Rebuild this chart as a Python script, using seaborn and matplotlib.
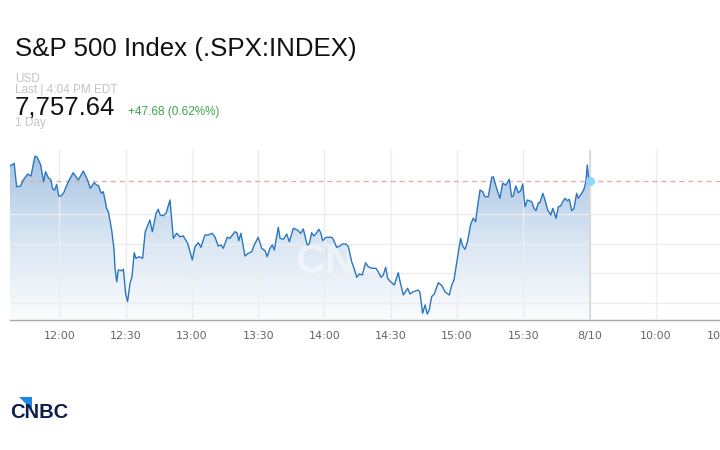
import numpy as np
import seaborn as sns
import matplotlib.pyplot as plt
from matplotlib.colors import LinearSegmentedColormap
from matplotlib.patches import Polygon

# Intraday S&P 500 chart (CNBC style)
# minutes after 12:00 (8/10 tick = 16:00 close)
minutes = [
    -22.3, -20.4, -19.3, -17.5, -16.3, -14.3, -12.8, -11.0, -10.0, -8.4,
    -7.1, -6.2, -4.8, -3.9, -2.9, -2.1, -1.2, -0.3, 0.8, 2.0,
    4.1, 6.3, 8.6, 10.9, 12.9, 14.0, 15.8, 16.9, 17.8, 19.0,
    19.9, 20.7, 21.4, 22.2, 23.7, 24.8, 25.2, 26.0, 26.7, 28.2,
    29.0, 30.0, 30.9, 32.0, 32.9, 33.9, 34.7, 36.2, 37.7, 38.9,
    41.0, 42.1, 43.8, 44.8, 45.6, 47.1, 48.3, 50.1, 51.6, 53.1,
    54.6, 56.1, 58.1, 60.2, 61.4, 62.9, 64.1, 65.9, 67.4, 69.2,
    70.5, 71.9, 73.2, 74.2, 76.0, 77.2, 79.5, 80.4, 81.2, 82.2,
    84.0, 85.5, 87.1, 88.2, 90.0, 91.6, 93.1, 94.1, 95.3, 96.4,
    97.3, 99.1, 99.9, 101.4, 102.9, 104.1, 105.9, 107.7, 109.2, 110.4,
    112.2, 113.1, 114.2, 115.2, 116.5, 117.4, 118.3, 119.2, 120.7, 123.3,
    124.0, 125.5, 127.0, 128.2, 129.7, 130.8, 132.3, 133.4, 134.6, 135.7,
    137.1, 138.6, 139.8, 141.4, 143.3, 144.3, 145.6, 146.6, 147.7, 148.6,
    149.6, 151.6, 153.4, 154.2, 155.7, 157.6, 158.7, 160.2, 162.4, 163.2,
    164.4, 165.5, 166.5, 167.4, 168.5, 169.7, 171.5, 173.3, 174.5, 176.5,
    177.6, 178.6, 179.8, 181.6, 182.5, 183.6, 184.6, 186.2, 187.3, 188.4,
    189.3, 190.4, 191.6, 192.6, 194.1, 195.7, 196.4, 197.9, 199.4, 200.6,
    202.1, 203.6, 204.7, 205.4, 206.6, 207.7, 208.8, 209.7, 210.7, 211.8,
    213.8, 214.8, 215.7, 216.8, 217.5, 218.8, 219.8, 221.0, 222.4, 223.3,
    224.8, 225.8, 226.9, 227.8, 228.9, 229.9, 230.8, 231.9, 232.9, 234.1,
    234.8, 236.4, 237.4, 238.3, 238.9, 239.5, 240.0,
]
prices = [
    7761.45, 7762.14, 7756.19, 7756.37, 7757.89, 7759.42, 7758.91, 7763.99, 7763.66, 7761.71,
    7757.46, 7760.00, 7758.33, 7758.07, 7755.53, 7755.35, 7756.80, 7753.83, 7753.83, 7754.67,
    7757.46, 7759.75, 7757.89, 7760.18, 7757.72, 7755.78, 7757.21, 7756.62, 7756.37, 7754.51,
    7754.92, 7752.81, 7750.70, 7749.84, 7745.20, 7740.10, 7735.45, 7732.04, 7735.02, 7734.84,
    7735.19, 7729.09, 7726.96, 7731.64, 7733.31, 7739.41, 7737.99, 7738.40, 7737.99, 7744.75,
    7747.73, 7744.75, 7749.43, 7750.45, 7749.00, 7748.82, 7749.43, 7752.81, 7743.07, 7744.35,
    7743.48, 7743.66, 7741.80, 7737.56, 7740.94, 7741.96, 7740.79, 7743.91, 7743.91, 7744.35,
    7743.33, 7741.12, 7741.37, 7740.53, 7743.33, 7743.07, 7744.75, 7744.50, 7742.46, 7744.35,
    7738.58, 7739.26, 7739.67, 7741.37, 7743.33, 7740.53, 7739.92, 7738.40, 7740.53, 7741.37,
    7740.10, 7745.87, 7743.07, 7742.82, 7744.17, 7742.21, 7745.62, 7745.20, 7744.35, 7745.44,
    7741.37, 7741.63, 7744.50, 7743.66, 7744.50, 7745.37, 7744.50, 7742.46, 7743.33, 7743.33,
    7742.82, 7740.79, 7741.12, 7741.63, 7741.63, 7740.94, 7737.13, 7735.45, 7733.16, 7734.00,
    7733.75, 7736.87, 7735.86, 7735.45, 7735.45, 7734.58, 7733.16, 7733.75, 7735.70, 7732.91,
    7732.22, 7731.20, 7734.33, 7732.04, 7728.66, 7730.36, 7728.92, 7729.50, 7729.93, 7729.35,
    7724.01, 7726.12, 7723.83, 7724.85, 7728.23, 7728.92, 7731.79, 7730.95, 7729.50, 7728.66,
    7731.20, 7732.47, 7736.72, 7743.07, 7741.12, 7740.28, 7741.96, 7746.71, 7748.16, 7747.29,
    7751.29, 7755.35, 7754.92, 7753.65, 7753.65, 7758.58, 7758.73, 7755.78, 7753.24, 7757.06,
    7756.62, 7758.07, 7753.65, 7753.83, 7756.37, 7754.67, 7755.17, 7756.88, 7751.11, 7752.81,
    7752.38, 7750.70, 7750.09, 7752.12, 7752.12, 7754.51, 7752.81, 7750.27, 7749.00, 7750.70,
    7748.16, 7751.11, 7751.29, 7752.38, 7753.24, 7752.63, 7752.99, 7750.09, 7750.70, 7754.51,
    7753.24, 7754.51, 7755.53, 7757.46, 7761.71, 7758.73, 7757.64,
]
tick_pos = [0, 30, 60, 90, 120, 150, 180, 210, 240, 270, 300]
tick_labels = ["12:00", "12:30", "13:00", "13:30", "14:00", "14:30",
               "15:00", "15:30", "8/10", "10:00", "10:30"]
grid_levels = [7726.75, 7734.25, 7741.75, 7749.25]

title = "S&P 500 Index (.SPX:INDEX)"
last_price = "7,757.64"
change = "+47.68 (0.62%%)"

sns.set_style("white")
plt.rcParams['font.family'] = ['Liberation Sans', 'DejaVu Sans']

fig = plt.figure(figsize=(7.2, 4.5), dpi=100)
ax = fig.add_axes([10 / 720, 130 / 450, 720 / 720, 170 / 450])

xlo, xhi = -22.3, 303.5
ylo, yhi = 7722.31, 7765.52

# gradient area under the line
verts = [(minutes[0], ylo)] + list(zip(minutes, prices)) + [(minutes[-1], ylo)]
poly = Polygon(verts, closed=True, facecolor='none', edgecolor='none')
ax.add_patch(poly)
cmap = LinearSegmentedColormap.from_list("fade", ["#fbfcfe", "#d6e4f2", "#a4c1e2"])
grad = np.linspace(1, 0, 256).reshape(-1, 1)
im = ax.imshow(grad, cmap=cmap, aspect='auto', extent=[xlo, xhi, ylo, yhi],
               origin='upper', zorder=1)
im.set_clip_path(poly)

ax.text(0.479, 0.34, "CNBC", transform=ax.transAxes, fontsize=30,
        fontweight='bold', color='white', alpha=0.45, ha='center', va='center',
        zorder=2.2)

sns.lineplot(x=minutes, y=prices, ax=ax, color="#2a77c0", lw=1.0,
             estimator=None, sort=False, zorder=3)

ax.axhline(prices[-1], xmin=0.014, color="#e0b0a4", lw=1, dashes=(3.6, 2.9), zorder=2.7)
ax.axvline(240, color="#d6d6d6", lw=1.2, zorder=2.6)
ax.plot(minutes[-1], prices[-1], 'o', ms=6.5, color="#8fd6f8", mec='none', zorder=4)

ax.set_xlim(xlo, xhi)
ax.set_ylim(ylo, yhi)
ax.set_xticks(tick_pos)
ax.set_xticklabels(tick_labels, family='DejaVu Sans')
ax.set_yticks(grid_levels)
ax.tick_params(axis='x', length=3, width=1, color="#d6d6d6", labelcolor="#666666",
               labelsize=8, pad=5)
ax.tick_params(axis='y', length=0, labelleft=False)
ax.grid(True, color="#ededed", lw=1)
ax.set_axisbelow(False)
for s in ["top", "left", "right"]:
    ax.spines[s].set_visible(False)
ax.spines["bottom"].set_color("#a8a8a8")
ax.spines["bottom"].set_linewidth(1)
ax.set_xlabel("")
ax.set_ylabel("")

# header texts
fig.text(15 / 720, 1 - 56 / 450, title, fontsize=18.6, color="#111111", va='baseline')
fig.text(15 / 720, 1 - 81.7 / 450, "USD", fontsize=8.5, color="#c4c4c4", va='baseline')
fig.text(15 / 720, 1 - 92.7 / 450, "Last | 4:04 PM EDT", fontsize=8.5, color="#c4c4c4", va='baseline')
fig.text(15 / 720, 1 - 115 / 450, last_price, fontsize=18.5, color="#111111", va='baseline')
fig.text(128 / 720, 1 - 114.5 / 450, change, fontsize=8.5, color="#3ca64a", va='baseline')
fig.text(15 / 720, 1 - 126 / 450, "1 Day", fontsize=8.5, color="#c4c4c4", va='baseline')

# CNBC logo
fig.text(10 / 720, 1 - 418 / 450, "CNBC", fontsize=14.5, fontweight='bold',
         color="#0c1f4d", va='baseline')
tri = Polygon([(19 / 720, 1 - 397 / 450), (32 / 720, 1 - 397 / 450), (32 / 720, 1 - 410 / 450)],
              closed=True, facecolor="#1e88e5", edgecolor='none', transform=fig.transFigure)
fig.patches.append(tri)

plt.savefig("out.png", dpi=100)
